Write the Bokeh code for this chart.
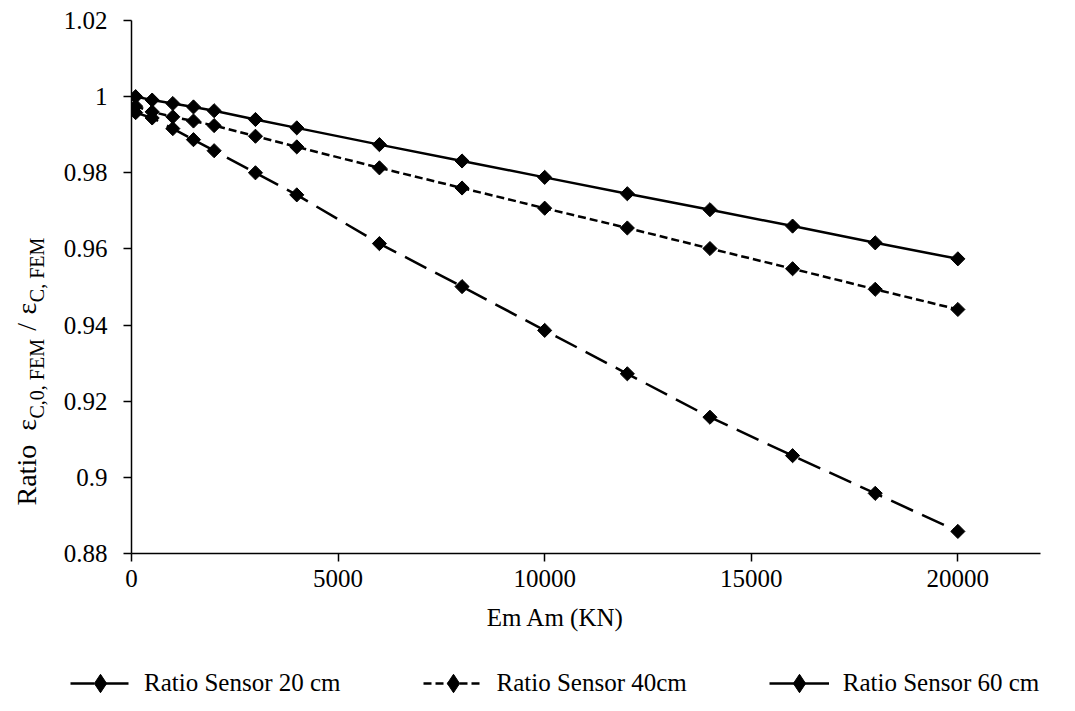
import math
from bokeh.plotting import figure
from bokeh.layouts import row, column
from bokeh.models import (Range1d, FixedTicker, Label, Legend, LegendItem, ColumnDataSource)
from bokeh.embed import file_html
from bokeh.resources import INLINE

# ---- data ----
em_am = [100, 500, 1000, 1500, 2000, 3000, 4000, 6000, 8000, 10000, 12000, 14000, 16000, 18000, 20000]
ratio_20 = [0.9958, 0.9944, 0.9916, 0.9887, 0.9858, 0.9800, 0.9742, 0.9614, 0.9501, 0.9386, 0.9272, 0.9158, 0.9057, 0.8958, 0.8858]
ratio_40 = [0.9975, 0.9960, 0.9947, 0.9936, 0.9924, 0.9896, 0.9868, 0.9813, 0.9760, 0.9707, 0.9655, 0.9601, 0.9548, 0.9494, 0.9441]
ratio_60 = [1.0000, 0.9991, 0.9982, 0.9973, 0.9963, 0.9940, 0.9918, 0.9874, 0.9831, 0.9788, 0.9745, 0.9703, 0.9660, 0.9616, 0.9574]
series_names = ["Ratio Sensor 20 cm", "Ratio Sensor 40cm", "Ratio Sensor 60 cm"]
y_ticks = [0.88, 0.90, 0.92, 0.94, 0.96, 0.98, 1.00, 1.02]
y_tick_labels = ["0.88", "0.9", "0.92", "0.94", "0.96", "0.98", "1", "1.02"]
x_ticks = [0, 5000, 10000, 15000, 20000]
x_title = "Em Am (KN)"

FONT = "Liberation Serif"
dashes = ["24 10", "8 4", "solid"]


def blank_fig(w, h):
    f = figure(width=w, height=h, output_backend="svg", toolbar_location=None,
               x_range=Range1d(0, 1), y_range=Range1d(0, 1), min_border=0,
               x_axis_location=None, y_axis_location=None)
    f.outline_line_color = None
    f.grid.visible = False
    return f


# ---- main chart ----
p = figure(width=999, height=600, output_backend="svg", toolbar_location=None,
           x_range=Range1d(0, 22000), y_range=Range1d(0.88, 1.02),
           min_border_left=69, min_border_right=19, min_border_top=20, min_border_bottom=47)
p.outline_line_color = None
p.xgrid.visible = False
p.ygrid.visible = False

for ax in (p.xaxis[0], p.yaxis[0]):
    ax.axis_line_color = "black"
    ax.axis_line_width = 1.5
    ax.major_tick_line_color = "black"
    ax.major_tick_line_width = 1.5
    ax.major_tick_in = 0
    ax.major_tick_out = 8
    ax.minor_tick_line_color = None
    ax.major_label_text_font = FONT
    ax.major_label_text_font_size = "25px"
    ax.major_label_text_color = "black"

p.yaxis.ticker = FixedTicker(ticks=y_ticks)
p.yaxis.major_label_overrides = {t: l for t, l in zip(y_ticks, y_tick_labels)}
p.yaxis.major_label_standoff = 16
p.xaxis.ticker = FixedTicker(ticks=x_ticks)
p.xaxis.major_label_standoff = 8

for ys, dash in zip([ratio_20, ratio_40, ratio_60], dashes):
    src = ColumnDataSource(dict(x=em_am, y=ys))
    p.line("x", "y", source=src, line_color="black", line_width=2.5, line_dash=dash)
    p.scatter("x", "y", source=src, marker="square", size=10, angle=math.pi / 4,
              fill_color="black", line_color="black")

# ---- y-axis title (rotated, with subscripts); its frame aligns with the chart frame ----
ylab = blank_fig(60, 600)
widths = {"R": .667, "a": .444, "t": .278, "i": .278, "o": .5, " ": .25, "ε": .44,
          "C": .667, ",": .25, "0": .5, "F": .556, "E": .611, "M": .889, "/": .278}


def tw(s, size):
    return sum(widths.get(c, .5) for c in s) * size


BIG, SMALL = 28, 20
# (text, font size, baseline shift, gap after)
pieces = [("Ratio", BIG, 0, 0.5 * BIG), ("ε", BIG, 0, 0), ("C,0, FEM", SMALL, 10, 0.3 * BIG),
          ("/", BIG, 0, 0.3 * BIG), ("ε", BIG, 0, 0), ("C, FEM", SMALL, 10, 0)]
pos = 48
base_x = 26
for txt, size, off, gap in pieces:
    ylab.add_layout(Label(x=base_x + off, y=pos, x_units="screen", y_units="screen",
                          text=txt, text_font=FONT, text_font_size=f"{size}px",
                          angle=math.pi / 2, text_align="left", text_baseline="alphabetic",
                          text_color="black"))
    pos += tw(txt, size) + gap

# ---- bottom: x title and legend ----
bot = blank_fig(1059, 95)
bot.add_layout(Label(x=555, y=95 - 17, x_units="screen", y_units="screen",
                     text=x_title, text_font=FONT, text_font_size="25px",
                     text_align="center", text_baseline="middle", text_color="black"))

items = []
for name, dash in zip(series_names, dashes):
    src = ColumnDataSource(dict(x=[-5.0], y=[-5.0]))
    r1 = bot.line("x", "y", source=src, line_color="black", line_width=2.5, line_dash=dash)
    r2 = bot.scatter("x", "y", source=src, marker="diamond", size=10,
                     fill_color="black", line_color="black")
    items.append(LegendItem(label=name, renderers=[r1, r2]))

legend = Legend(items=items, orientation="horizontal", location=(70, -11),
                glyph_width=60, glyph_height=46, label_height=46, label_standoff=14,
                spacing=82, padding=0, margin=0, border_line_color=None,
                background_fill_alpha=0, label_text_font=FONT,
                label_text_font_size="25px", label_text_color="black")
bot.add_layout(legend, "center")

layout = column(row(ylab, p), bot)
open("out.html", "w").write(file_html(layout, INLINE))
